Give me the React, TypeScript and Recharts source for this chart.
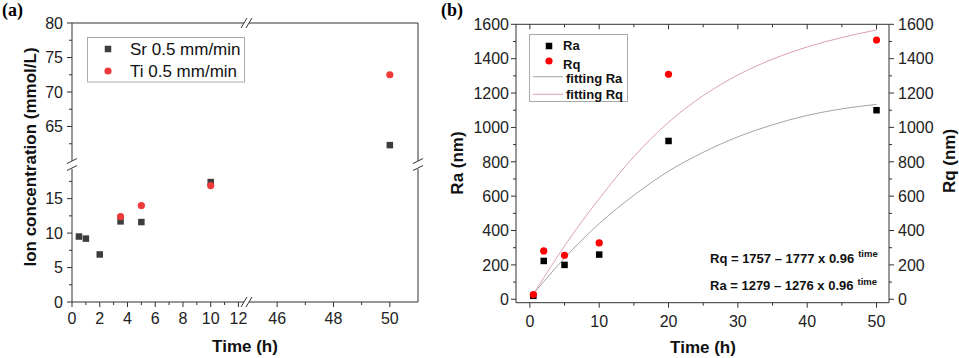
import React from 'react';
import { ScatterChart, ComposedChart, Scatter, Line, XAxis, YAxis, ReferenceLine } from 'recharts';

// (a) ion release
const timeSr = [0.5, 1, 2, 3.5, 5, 10, 50];
const srVals = [9.5, 9.2, 6.9, 11.7, 11.6, 17.4, 62.3];
const timeTi = [3.5, 5, 10, 50];
const tiVals = [12.4, 14.0, 16.9, 72.5];

// (b) roughness
const timeR = [0.5, 2, 5, 10, 20, 50];
const raVals = [20, 223, 200, 260, 921, 1100];
const rqVals = [27, 281, 256, 328, 1309, 1508];

// fitted curves
const fitTime = [0.5, 2, 5, 10, 15, 20, 25, 30, 35, 40, 45, 50];
const fitRa = [32, 102, 240, 440, 605, 745, 855, 945, 1015, 1070, 1108, 1134];
const fitRq = [30, 125, 310, 585, 830, 1030, 1185, 1305, 1397, 1468, 1523, 1567];

// ticks
const aLowXTicks = [0, 1, 2, 3, 4, 5, 6, 7, 8, 9, 10, 11, 12];
const aLowXMajor = [0, 2, 4, 6, 8, 10, 12];
const aHighXTicks = [46, 47, 48, 49, 50];
const aHighXMajor = [46, 48, 50];
const aLowYTicks = [0, 2.5, 5, 7.5, 10, 12.5, 15, 17.5];
const aLowYMajor = [0, 5, 10, 15];
const aHighYTicks = [62.5, 65, 67.5, 70, 72.5, 75, 77.5, 80];
const aHighYMajor = [65, 70, 75, 80];
const bXTicks = [0, 5, 10, 15, 20, 25, 30, 35, 40, 45, 50];
const bXMajor = [0, 10, 20, 30, 40, 50];
const bYTicks = [0, 100, 200, 300, 400, 500, 600, 700, 800, 900, 1000, 1100, 1200, 1300, 1400, 1500, 1600];
const bYMajor = [0, 200, 400, 600, 800, 1000, 1200, 1400, 1600];

const FONT = '"Liberation Sans", Arial, sans-serif';
const AX = '#333';
const SR_C = '#3d3d3d';
const TI_C = '#ee3a3a';
const RA_C = '#000000';
const RQ_C = '#ff0000';
const FIT_RA_C = '#a3a3a3';
const FIT_RQ_C = '#d9a3aa';

type P = { x: number; y: number };
const zip = (xs: number[], ys: number[]): P[] => xs.map((x, i) => ({ x, y: ys[i] }));
const srPts = zip(timeSr, srVals);
const tiPts = zip(timeTi, tiVals);
const raPts = zip(timeR, raVals);
const rqPts = zip(timeR, rqVals);
const fitRaPts = zip(fitTime, fitRa);
const fitRqPts = zip(fitTime, fitRq);

const inside = (p: P, xd: number[], yd: number[]) =>
  p.x >= xd[0] && p.x <= xd[1] && p.y >= yd[0] && p.y <= yd[1];

const square = (s: number, fill: string) => (props: any) => (
  <rect x={props.cx - s / 2} y={props.cy - s / 2} width={s} height={s} fill={fill} />
);
const dot = (r: number, fill: string) => (props: any) => (
  <circle cx={props.cx} cy={props.cy} r={r} fill={fill} />
);

type Side = 'left' | 'right' | 'bottom' | 'top';
const makeTick =
  (side: Side, majors: number[], o: { inward?: boolean; gap?: number; labels?: boolean } = {}) =>
  (props: any) => {
    const { x, y, payload } = props;
    const v = payload.value;
    const major = majors.includes(v);
    const len = major ? 5 : 3;
    const d = o.inward ? -1 : 1;
    const gap = o.gap ?? 9;
    const show = o.labels !== false && major;
    const tp = { fontFamily: FONT, fontSize: 16, fill: '#222' };
    let line;
    let text = null;
    if (side === 'left') {
      line = <line x1={x} x2={x - d * len} y1={y} y2={y} stroke={AX} />;
      if (show) text = <text x={x - gap} y={y + 5.8} textAnchor="end" {...tp}>{v}</text>;
    } else if (side === 'right') {
      line = <line x1={x} x2={x + d * len} y1={y} y2={y} stroke={AX} />;
      if (show) text = <text x={x + gap} y={y + 5.8} textAnchor="start" {...tp}>{v}</text>;
    } else if (side === 'bottom') {
      line = <line x1={x} x2={x} y1={y} y2={y + d * len} stroke={AX} />;
      if (show) text = <text x={x} y={y + gap} textAnchor="middle" {...tp}>{v}</text>;
    } else {
      line = <line x1={x} x2={x} y1={y} y2={y - d * len} stroke={AX} />;
    }
    return (
      <g>
        {line}
        {text}
      </g>
    );
  };

type SegProps = {
  box: [number, number, number, number];
  xd: [number, number];
  yd: [number, number];
  xTicks?: number[];
  xMajor?: number[];
  yTicks?: number[];
  yMajor?: number[];
  topEdge?: boolean;
  rightEdge?: boolean;
};

// one piece of the broken-axis panel (a)
function Segment({ box, xd, yd, xTicks, xMajor, yTicks, yMajor, topEdge, rightEdge }: SegProps) {
  const [x0, y0, x1, y1] = box;
  const pad = { l: 50, r: 14, t: 12, b: 30 };
  const hasX = !!xTicks;
  const hasY = !!yTicks;
  const sr = srPts.filter((p) => inside(p, xd, yd));
  const ti = tiPts.filter((p) => inside(p, xd, yd));
  return (
    <div style={{ position: 'absolute', left: x0 - pad.l, top: y0 - pad.t }}>
      <ScatterChart
        width={x1 - x0 + pad.l + pad.r}
        height={y1 - y0 + pad.t + pad.b}
        margin={{ left: pad.l - (hasY ? 1 : 0), right: pad.r, top: pad.t, bottom: pad.b - (hasX ? 1 : 0) }}
      >
        <XAxis
          type="number"
          dataKey="x"
          domain={xd}
          allowDataOverflow
          hide={!hasX}
          height={1}
          ticks={xTicks}
          interval={0}
          tickSize={0}
          tickMargin={0}
          tickLine={false}
          axisLine={{ stroke: AX }}
          tick={makeTick('bottom', xMajor || [], { gap: 22 })}
        />
        <YAxis
          type="number"
          dataKey="y"
          domain={yd}
          allowDataOverflow
          hide={!hasY}
          width={1}
          ticks={yTicks}
          interval={0}
          tickSize={0}
          tickMargin={0}
          tickLine={false}
          axisLine={{ stroke: AX }}
          tick={makeTick('left', yMajor || [], { gap: 9 })}
        />
        {topEdge && <ReferenceLine y={yd[1]} stroke={AX} />}
        {rightEdge && <ReferenceLine x={xd[1]} stroke={AX} />}
        <Scatter data={sr} shape={square(6.5, SR_C)} isAnimationActive={false} />
        <Scatter data={ti} shape={dot(3.6, TI_C)} isAnimationActive={false} />
      </ScatterChart>
    </div>
  );
}

const Brk = ({ x, y, vertical }: { x: number; y: number; vertical?: boolean }) =>
  vertical ? (
    <line x1={x - 5} y1={y + 2.5} x2={x + 5} y2={y - 2.5} stroke={AX} />
  ) : (
    <line x1={x - 3} y1={y + 5} x2={x + 3} y2={y - 5} stroke={AX} />
  );

const legendA = [
  { name: 'Sr 0.5 mm/min', color: SR_C, kind: 'square' },
  { name: 'Ti 0.5 mm/min', color: TI_C, kind: 'circle' },
];

const App = () => {
  const title = { fontFamily: FONT, fontSize: 17, fontWeight: 700, fill: '#111' };
  const small = { fontFamily: FONT, fontSize: 13, fontWeight: 700, fill: '#111' };
  return (
    <div style={{ position: 'absolute', left: 0, top: 0, width: 959, height: 358, background: '#fff' }}>
      {/* panel (a) */}
      <Segment box={[72, 169, 244, 302]} xd={[0, 12.4]} yd={[0, 19.3]} xTicks={aLowXTicks} xMajor={aLowXMajor} yTicks={aLowYTicks} yMajor={aLowYMajor} />
      <Segment box={[249, 169, 418, 302]} xd={[45, 51]} yd={[0, 19.3]} xTicks={aHighXTicks} xMajor={aHighXMajor} rightEdge />
      <Segment box={[72, 23, 244, 161]} xd={[0, 12.4]} yd={[60, 80]} yTicks={aHighYTicks} yMajor={aHighYMajor} topEdge />
      <Segment box={[249, 23, 418, 161]} xd={[45, 51]} yd={[60, 80]} topEdge rightEdge />

      {/* panel (b) */}
      <div style={{ position: 'absolute', left: 460, top: 0 }}>
        <ComposedChart width={499} height={358} margin={{ left: 55, right: 69, top: 23.3, bottom: 54.3 }}>
          <XAxis
            xAxisId="b"
            type="number"
            dataKey="x"
            domain={[-2, 51.8]}
            allowDataOverflow
            height={1}
            ticks={bXTicks}
            interval={0}
            tickSize={0}
            tickMargin={0}
            tickLine={false}
            axisLine={{ stroke: AX }}
            tick={makeTick('bottom', bXMajor, { gap: 24 })}
          />
          <XAxis
            xAxisId="t"
            orientation="top"
            type="number"
            dataKey="x"
            domain={[-2, 51.8]}
            allowDataOverflow
            height={1}
            ticks={bXTicks}
            interval={0}
            tickSize={0}
            tickMargin={0}
            tickLine={false}
            axisLine={{ stroke: AX }}
            tick={makeTick('top', bXMajor, { inward: true, labels: false })}
          />
          <YAxis
            yAxisId="l"
            type="number"
            dataKey="y"
            domain={[-20, 1600]}
            allowDataOverflow
            width={1}
            ticks={bYTicks}
            interval={0}
            tickSize={0}
            tickMargin={0}
            tickLine={false}
            axisLine={{ stroke: AX }}
            tick={makeTick('left', bYMajor, { gap: 7 })}
          />
          <YAxis
            yAxisId="r"
            orientation="right"
            type="number"
            dataKey="y"
            domain={[-20, 1600]}
            allowDataOverflow
            width={1}
            ticks={bYTicks}
            interval={0}
            tickSize={0}
            tickMargin={0}
            tickLine={false}
            axisLine={{ stroke: AX }}
            tick={makeTick('right', bYMajor, { gap: 9 })}
          />
          <Line xAxisId="b" yAxisId="l" data={fitRaPts} dataKey="y" type="monotone" stroke={FIT_RA_C} strokeWidth={1} dot={false} isAnimationActive={false} />
          <Line xAxisId="b" yAxisId="r" data={fitRqPts} dataKey="y" type="monotone" stroke={FIT_RQ_C} strokeWidth={1} dot={false} isAnimationActive={false} />
          <Scatter xAxisId="b" yAxisId="l" data={raPts} shape={square(6.5, RA_C)} isAnimationActive={false} />
          <Scatter xAxisId="b" yAxisId="r" data={rqPts} shape={dot(3.6, RQ_C)} isAnimationActive={false} />
        </ComposedChart>
      </div>

      {/* labels, legends, breaks */}
      <svg width={959} height={358} style={{ position: 'absolute', left: 0, top: 0, pointerEvents: 'none' }}>
        <text x={2} y={15.5} fontFamily='"Liberation Serif", "Times New Roman", serif' fontSize={18} fontWeight={700}>(a)</text>
        <text x={441} y={15.5} fontFamily='"Liberation Serif", "Times New Roman", serif' fontSize={18} fontWeight={700}>(b)</text>

        <text x={35.5} y={157} transform="rotate(-90 35.5 157)" textAnchor="middle" {...title}>Ion concentration (mmol/L)</text>
        <text x={245} y={351.5} textAnchor="middle" {...title}>Time (h)</text>
        <text x={463} y={163} transform="rotate(-90 463 163)" textAnchor="middle" {...title}>Ra (nm)</text>
        <text x={955} y={161} transform="rotate(-90 955 161)" textAnchor="middle" {...title}>Rq (nm)</text>
        <text x={703} y={353} textAnchor="middle" {...title}>Time (h)</text>

        {/* axis breaks */}
        <Brk x={244} y={23} />
        <Brk x={249} y={23} />
        <Brk x={244} y={302} />
        <Brk x={249} y={302} />
        <Brk x={72} y={161} vertical />
        <Brk x={72} y={168} vertical />
        <Brk x={418} y={161} vertical />
        <Brk x={418} y={168} vertical />

        {/* legend (a) */}
        <rect x={87.5} y={37.5} width={157} height={44.5} fill="#fff" stroke="#aaa" />
        {legendA.map((e, i) => (
          <g key={e.name}>
            {e.kind === 'square' ? (
              <rect x={108 - 3.25} y={49 + i * 22 - 3.25} width={6.5} height={6.5} fill={e.color} />
            ) : (
              <circle cx={108} cy={49 + i * 22} r={3.6} fill={e.color} />
            )}
            <text x={130} y={55 + i * 21.7} fontFamily={FONT} fontSize={17} fill="#111">{e.name}</text>
          </g>
        ))}

        {/* legend (b) */}
        <rect x={529.5} y={34.5} width={98} height={67} fill="#fff" stroke="#aaa" />
        <rect x={549 - 3.25} y={46 - 3.25} width={6.5} height={6.5} fill={RA_C} />
        <text x={563} y={49.5} {...small}>Ra</text>
        <circle cx={549} cy={61} r={3.6} fill={RQ_C} />
        <text x={563} y={69} {...small}>Rq</text>
        <line x1={533} x2={563} y1={76.7} y2={76.7} stroke={FIT_RA_C} />
        <text x={566} y={83.3} {...small}>fitting Ra</text>
        <line x1={533} x2={563} y1={94.3} y2={94.3} stroke={FIT_RQ_C} />
        <text x={566} y={99} {...small}>fitting Rq</text>

        {/* fitted equations */}
        <text x={710} y={262.7} {...small}>
          Rq = 1757 – 1777 x 0.96
          <tspan dx={4} dy={-5.5} fontSize={9.5}>time</tspan>
        </text>
        <text x={710} y={290} {...small}>
          Ra = 1279 – 1276 x 0.96
          <tspan dx={4} dy={-5.5} fontSize={9.5}>time</tspan>
        </text>
      </svg>
    </div>
  );
};

export default App;
